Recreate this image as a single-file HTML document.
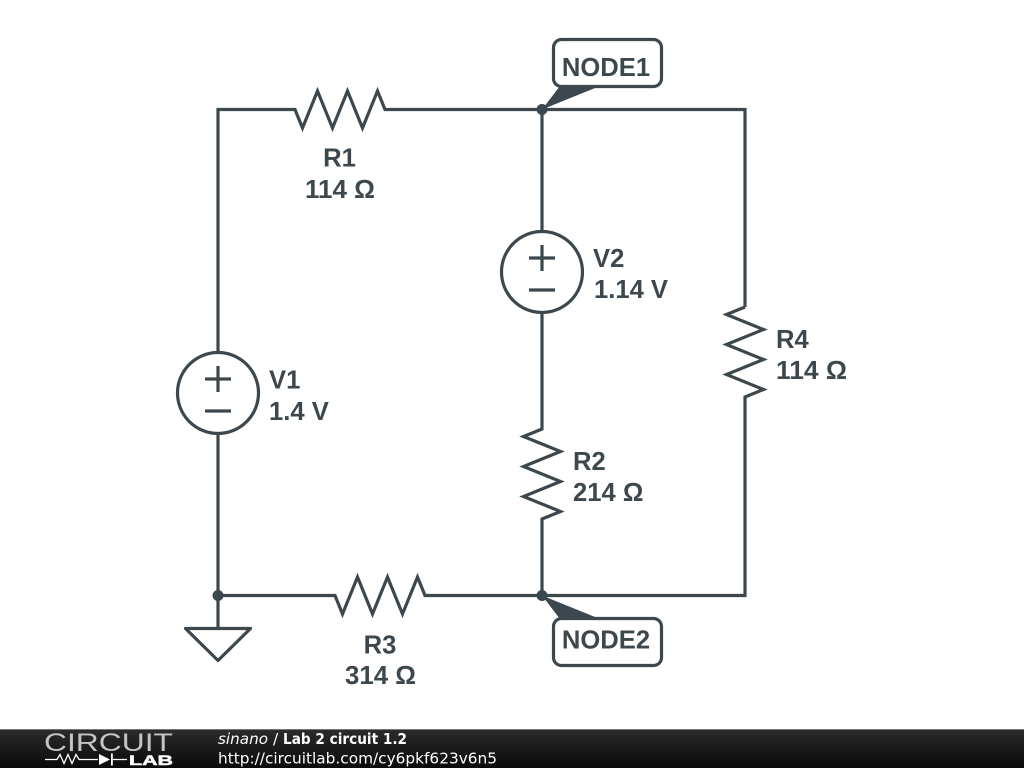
<!DOCTYPE html>
<html>
<head>
<meta charset="utf-8">
<style>
html,body{margin:0;padding:0;background:#fff;width:1024px;height:768px;overflow:hidden}
svg{display:block}
.l{font-family:"Liberation Sans",Arial,sans-serif;font-weight:bold;font-size:25.6px;fill:#3d474e}
.f{font-family:"DejaVu Sans",sans-serif;font-size:15.4px;fill:#fff}
</style>
</head>
<body>
<svg width="1024" height="768" viewBox="0 0 1024 768" xmlns="http://www.w3.org/2000/svg">
<defs>
<linearGradient id="g" x1="0" y1="0" x2="0" y2="1">
<stop offset="0" stop-color="#2c2c2c"/>
<stop offset="1" stop-color="#0a0a0a"/>
</linearGradient>
</defs>
<rect width="1024" height="768" fill="#fff"/>
<g fill="none" stroke="#3d474e" stroke-width="3.2" stroke-linejoin="miter" stroke-linecap="butt">
<!-- wires -->
<path d="M218 352V109.500H295L302.500 128 317.500 91 332.500 128 347.500 91 362.500 128 377.500 91 385 109.500H745V307"/>
<path d="M542 109.500V231"/>
<path d="M542 313V429L523.500 436.500 560.500 451.500 523.500 466.500 560.500 481.500 523.500 496.500 560.500 511.500 542 519V595.500"/>
<path d="M745 307L726.500 314.500 763.500 329.500 726.500 344.500 763.500 359.500 726.500 374.500 763.500 389.500 745 397V595.500H425L417.500 577 402.500 614 387.500 577 372.500 614 357.500 577 342.500 614 335 595.500H218"/>
<path d="M218 434V628"/>
<!-- sources -->
<circle cx="218" cy="393" r="40.500"/>
<path d="M205 379h26M218 366v26M205 411h26"/>
<circle cx="542" cy="272" r="40.500"/>
<path d="M529 258h26M542 245v26M529 290h26"/>
<!-- ground -->
<path d="M185.500 628.500H250.500L218 660.500Z" stroke-linejoin="round"/>
<!-- node labels -->
<rect x="553.500" y="39.500" width="108" height="47" rx="8"/>
<rect x="553.500" y="618.500" width="108" height="47" rx="8"/>
</g>
<g fill="#3d474e">
<circle cx="542" cy="109.500" r="5.500"/>
<circle cx="542" cy="595.500" r="5.500"/>
<circle cx="218" cy="595.500" r="5.500"/>
<path d="M542 109.500L560 86H600Z"/>
<path d="M542 595.500L560 619H600Z"/>
</g>
<g>
<text class="l" x="606" y="76" text-anchor="middle">NODE1</text>
<text class="l" x="606" y="648.500" text-anchor="middle">NODE2</text>
<text class="l" x="339.500" y="166.500" text-anchor="middle">R1</text>
<text class="l" x="305" y="198" textLength="70" lengthAdjust="spacingAndGlyphs">114 Ω</text>
<text class="l" x="380" y="653.500" text-anchor="middle">R3</text>
<text class="l" x="345" y="684" textLength="71" lengthAdjust="spacingAndGlyphs">314 Ω</text>
<text class="l" x="269" y="388.500">V1</text>
<text class="l" x="269" y="420">1.4 V</text>
<text class="l" x="593" y="267">V2</text>
<text class="l" x="594" y="298">1.14 V</text>
<text class="l" x="573" y="470">R2</text>
<text class="l" x="573" y="501">214 Ω</text>
<text class="l" x="776" y="348">R4</text>
<text class="l" x="776" y="379" textLength="71" lengthAdjust="spacingAndGlyphs">114 Ω</text>
</g>
<!-- footer -->
<rect y="729" width="1024" height="39" fill="url(#g)"/>
<rect y="729" width="1024" height="1" fill="#777"/>
<text x="44" y="751" font-family="Liberation Sans, sans-serif" font-size="25" fill="#c4c4c4" textLength="129" lengthAdjust="spacingAndGlyphs">CIRCUIT</text>
<path d="M45 759.500H57l3-5 4 9 4-9 4 9 4-9 3 5H98M113 759.500H127" fill="none" stroke="#fff" stroke-width="1.300"/>
<path d="M99 754L110 759.500 99 765ZM111 753.500h1.800v12H111Z" fill="#fff"/>
<text x="129" y="765" font-family="Liberation Sans, sans-serif" font-weight="bold" font-size="14" fill="#fff" stroke="#fff" stroke-width=".5" textLength="44" lengthAdjust="spacingAndGlyphs">LAB</text>
<text class="f" x="218" y="744" font-style="italic" textLength="50" lengthAdjust="spacingAndGlyphs">sinano</text>
<text class="f" x="273" y="744">/</text>
<text class="f" x="283" y="744" font-weight="bold" textLength="124" lengthAdjust="spacingAndGlyphs">Lab 2 circuit 1.2</text>
<text class="f" x="218" y="763.500" textLength="279" lengthAdjust="spacingAndGlyphs">http://circuitlab.com/cy6pkf623v6n5</text>
</svg>
</body>
</html>
